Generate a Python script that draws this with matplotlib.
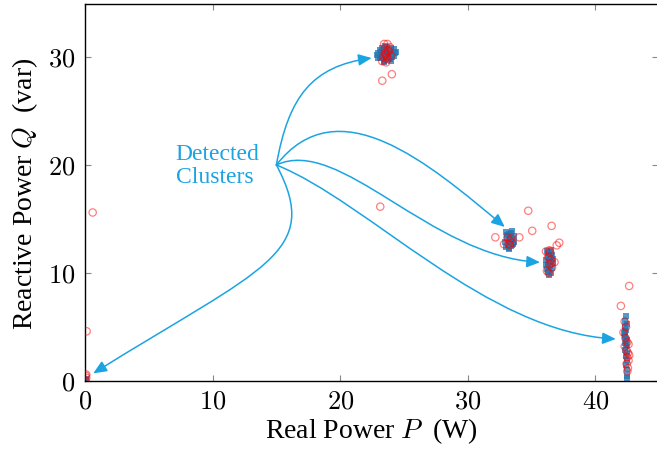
import numpy as np
import matplotlib
matplotlib.use('Agg')
import matplotlib.pyplot as plt
from matplotlib.path import Path
from matplotlib.patches import FancyArrowPatch
from matplotlib.ticker import FuncFormatter

plt.rcParams['font.family'] = ['Liberation Serif', 'DejaVu Serif']
plt.rcParams['mathtext.fontset'] = 'cm'

# measurements belonging to each detected cluster (blue) and raw samples (red)
c1_blue_p = [23.0, 23.2, 23.4, 23.6, 23.8, 24.0, 24.2, 23.1, 23.3, 23.5, 23.7, 23.9, 24.1, 24.3, 22.9, 23.2, 23.4, 23.6,
             23.8, 24.0, 24.2, 24.4, 23.1, 23.3, 23.5, 23.7, 23.9, 24.1, 23.4, 23.6, 23.8, 23.0, 23.5, 24.0, 23.7]
c1_blue_q = [30.4, 30.1, 30.6, 30.2, 30.5, 30.3, 30.7, 29.9, 30.8, 29.7, 30.9, 29.8, 30.0, 30.4, 30.2, 30.5, 29.6, 30.3,
             30.0, 30.8, 30.1, 30.5, 30.6, 30.2, 30.4, 29.9, 30.6, 30.2, 29.5, 30.7, 29.8, 29.9, 31.0, 29.6, 30.3]
c2_blue_p = [33.0, 33.2, 33.4, 33.6, 33.1, 33.3, 33.5, 32.95, 33.15, 33.35, 33.55, 33.0, 33.2, 33.4, 33.6, 33.1, 33.3,
             33.5, 33.25, 33.45]
c2_blue_q = [13.8, 13.6, 13.7, 13.4, 13.2, 13.0, 13.1, 12.9, 12.6, 12.8, 12.7, 12.4, 12.3, 12.5, 12.9, 13.5, 13.3,
             12.6, 12.2, 13.9]
c3_blue_p = [36.2, 36.4, 36.6, 36.3, 36.5, 36.7, 36.1, 36.35, 36.55, 36.25, 36.45, 36.65, 36.2, 36.4, 36.6, 36.3, 36.5,
             36.15, 36.45, 36.35, 36.55, 36.25]
c3_blue_q = [12.0, 11.9, 11.7, 11.5, 11.6, 11.3, 11.2, 11.0, 11.1, 10.8, 10.6, 10.9, 10.4, 10.3, 10.5, 10.1, 10.0,
             10.7, 11.4, 9.8, 12.1, 11.8]
c4_blue_p = [42.4, 42.35, 42.45, 42.3, 42.4, 42.25, 42.35, 42.45, 42.3, 42.4, 42.35, 42.5, 42.3, 42.4, 42.45, 42.35,
             42.4, 42.45, 42.4, 42.5, 42.45, 42.45]
c4_blue_q = [6.0, 5.6, 5.3, 5.0, 4.7, 4.4, 4.1, 3.8, 3.5, 3.2, 2.9, 2.6, 4.2, 3.9, 3.3, 4.6, 2.3, 1.9, 1.5, 1.0, 0.5,
             0.3]
c0_blue_p = [0.05, 0.1]
c0_blue_q = [0.2, 0.1]

c1_red_p = [23.4, 23.5, 23.6, 23.7, 23.45, 23.7, 23.8, 23.3, 24.0, 23.6, 23.9, 23.5, 23.65, 23.75, 23.55, 23.3, 24.05]
c1_red_q = [30.0, 30.8, 30.3, 29.8, 31.2, 31.2, 30.5, 29.6, 30.1, 29.5, 30.9, 30.4, 30.0, 30.6, 30.2, 27.8, 28.4]
c2_red_p = [33.1, 33.3, 33.5, 33.2, 33.4, 33.3, 32.16, 34.04, 32.84, 34.74, 35.05]
c2_red_q = [13.3, 13.0, 12.8, 12.7, 13.2, 12.6, 13.3, 13.3, 12.66, 15.76, 13.9]
c3_red_p = [36.3, 36.5, 36.4, 36.6, 36.2, 36.45, 36.35, 36.55, 36.13, 36.39, 36.57, 37.17, 36.97, 36.8]
c3_red_q = [11.5, 11.2, 10.8, 10.5, 10.2, 11.9, 10.0, 10.9, 12.0, 12.1, 14.36, 12.8, 12.56, 11.0]
c4_red_p = [42.3, 42.4, 42.2, 42.35, 42.5, 42.3, 42.45, 42.6, 42.55, 42.5, 42.6, 42.45, 42.55, 42.65, 42.5, 42.0, 42.65]
c4_red_q = [5.5, 5.0, 4.5, 4.0, 3.6, 3.2, 2.8, 3.4, 2.6, 2.2, 1.9, 1.6, 1.2, 2.4, 0.9, 6.95, 8.8]
other_red_p = [0.05, 0.1, 0.05, 0.1, 0.6, 0.13, 23.14]
other_red_q = [0.1, 0.3, 0.5, 0.6, 15.6, 4.6, 16.14]

# annotation: label anchor and arrow targets
label_pos = (7.1, 20.0)
arrow_start = (15.0, 20.0)
arrow_ends = [(22.47, 29.9), (32.9, 14.26), (35.66, 10.99), (41.6, 3.89), (0.65, 0.71)]
# out angle, in angle (deg, screen), control distances (px)
arrow_shape = [(80, 8, 70, 60), (52, -40, 100, 100), (25, -3, 70, 110), (-22, -3, 100, 130), (-62, 212, 100, 200)]

cyan = '#1ba4e2'

fig = plt.figure(figsize=(6.57, 4.56), dpi=100)
ax = fig.add_axes([85 / 657, 74 / 456, 572.5 / 657, 377 / 456])

blue_p = c1_blue_p + c2_blue_p + c3_blue_p + c4_blue_p + c0_blue_p
blue_q = c1_blue_q + c2_blue_q + c3_blue_q + c4_blue_q + c0_blue_q
red_p = c1_red_p + c2_red_p + c3_red_p + c4_red_p + other_red_p
red_q = c1_red_q + c2_red_q + c3_red_q + c4_red_q + other_red_q

ax.scatter(blue_p, blue_q, s=18, marker='s', color='#1f77b4', alpha=0.75, linewidths=0, zorder=2)
ax.scatter(red_p, red_q, s=28, facecolors='none', edgecolors='red', alpha=0.5, linewidths=0.9, zorder=3)

ax.set_xlim(0, 44.87)
ax.set_ylim(0, 34.9)
ax.set_xticks([0, 10, 20, 30, 40])
ax.set_yticks([0, 10, 20, 30])
fmt = FuncFormatter(lambda v, pos: '$%d$' % v)
ax.xaxis.set_major_formatter(fmt)
ax.yaxis.set_major_formatter(fmt)
ax.tick_params(direction='in', length=4.5, width=0.8, color='#888888', labelsize=19, pad=7,
               top=True, right=True)
for s in ax.spines.values():
    s.set_linewidth(1.0)

ax.set_xlabel('Real Power $P$  (W)', fontsize=20, labelpad=2)
ax.set_ylabel('Reactive Power $Q$  (var)', fontsize=20, labelpad=6)

ax.text(label_pos[0], label_pos[1], 'Detected\nClusters', color=cyan, fontsize=17,
        ha='left', va='center', multialignment='left', linespacing=1.15)

# curved arrows, built as cubic bezier in display space then mapped to data
fig.canvas.draw()
to_disp = ax.transData
to_data = ax.transData.inverted()
p0 = to_disp.transform(arrow_start)
for end, (a_out, a_in, d1, d2) in zip(arrow_ends, arrow_shape):
    p3 = to_disp.transform(end)
    p1 = p0 + d1 * np.array([np.cos(np.radians(a_out)), np.sin(np.radians(a_out))])
    p2 = p3 - d2 * np.array([np.cos(np.radians(a_in)), np.sin(np.radians(a_in))])
    verts = to_data.transform(np.array([p0, p1, p2, p3]))
    path = Path(verts, [Path.MOVETO, Path.CURVE4, Path.CURVE4, Path.CURVE4])
    arr = FancyArrowPatch(path=path, arrowstyle='-|>,head_length=0.8,head_width=0.35', mutation_scale=10,
                          color=cyan, lw=1.1, transform=ax.transData, zorder=4)
    ax.add_patch(arr)

fig.savefig('out.png', dpi=100)
